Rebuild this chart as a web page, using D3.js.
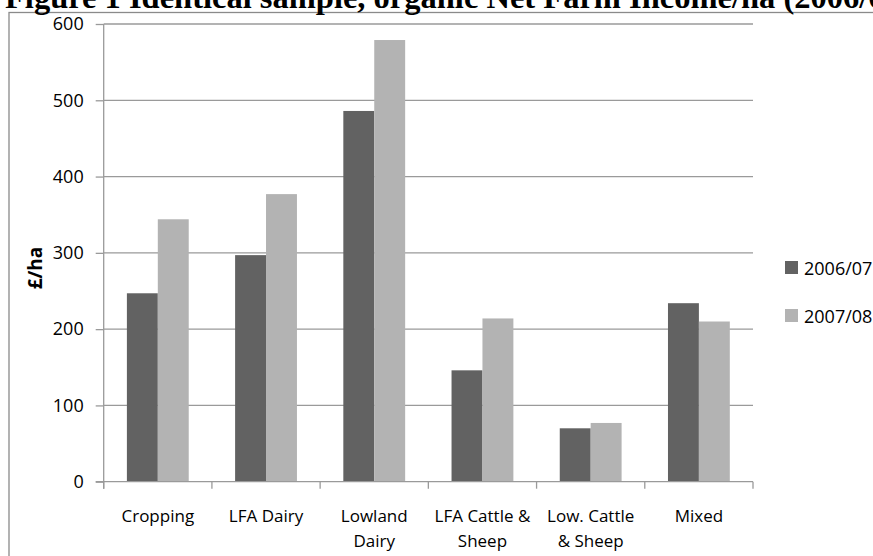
<!DOCTYPE html>
<html>
<head>
<meta charset="utf-8">
<script src="https://cdn.jsdelivr.net/npm/d3@7"></script>
<style>
  html, body { margin: 0; padding: 0; background: #fff; }
  svg { display: block; overflow: hidden; }
</style>
</head>
<body>
<svg id="chart" width="873" height="556"></svg>
<script>
const categories = ["Cropping", "LFA Dairy", "Lowland Dairy", "LFA Cattle & Sheep", "Low. Cattle & Sheep", "Mixed"];
const categoryLines = [["Cropping"], ["LFA Dairy"], ["Lowland", "Dairy"], ["LFA Cattle &", "Sheep"], ["Low. Cattle", "& Sheep"], ["Mixed"]];
const seriesNames = ["2006/07", "2007/08"];
const values2006 = [247, 297, 486, 146, 70, 234];
const values2007 = [344, 377, 579, 214, 77, 210];
const yTicks = [0, 100, 200, 300, 400, 500, 600];
const titleText = "Figure 1 Identical sample, organic Net Farm Income/ha (2006/07 \u2013 2007/08)";
const yLabel = "£/ha";

const colors = ["#626262", "#b3b3b3"];
const seriesValues = [values2006, values2007];

const svg = d3.select("#chart");
const pLeft = 103.7, pRight = 753, pTop = 24, pBottom = 481.7;
const font = "'Open Sans', sans-serif";

// Outer frame
svg.append("rect").attr("x", 9).attr("y", 12.5).attr("width", 900).attr("height", 600)
  .attr("fill", "none").attr("stroke", "#8a8a8a").attr("stroke-width", 1.3);

// Title (clipped at top)
svg.append("text").attr("x", 5).attr("y", 7.5)
  .attr("font-family", "'Liberation Serif', 'Times New Roman', serif")
  .attr("font-weight", "bold").attr("font-size", 32.5).attr("fill", "#000")
  .text(titleText);

const y = d3.scaleLinear().domain([0, 600]).range([pBottom, pTop]);
const x = d3.scaleBand().domain(categories).range([pLeft, pRight]).paddingInner(0).paddingOuter(0);
const xs = d3.scaleBand().domain(seriesNames).range([0, x.bandwidth()]).paddingInner(0).paddingOuter(0.75);

// Gridlines
svg.append("g").selectAll("line").data(yTicks.filter(d => d > 0)).join("line")
  .attr("x1", pLeft).attr("x2", pRight)
  .attr("y1", d => y(d)).attr("y2", d => y(d))
  .attr("stroke", "#9a9a9a").attr("stroke-width", 1.3);

// Bars
const groups = svg.append("g").selectAll("g").data(categories).join("g")
  .attr("transform", d => `translate(${x(d)},0)`);
groups.selectAll("rect").data((d, i) => seriesNames.map((s, j) => ({ s, j, v: seriesValues[j][i] }))).join("rect")
  .attr("x", d => xs(d.s)).attr("width", xs.bandwidth())
  .attr("y", d => y(d.v)).attr("height", d => pBottom - y(d.v))
  .attr("fill", d => colors[d.j]);

// Y axis
const yAxis = d3.axisLeft(y).tickValues(yTicks).tickSize(8).tickPadding(12);
const ya = svg.append("g").attr("transform", `translate(${pLeft},0)`).call(yAxis);
ya.select(".domain").attr("stroke", "#9a9a9a").attr("stroke-width", 1.3).attr("d", `M0,${pTop}V${pBottom + 7}`);
ya.selectAll(".tick line").attr("stroke", "#9a9a9a").attr("stroke-width", 1.3);
ya.selectAll(".tick text").attr("font-family", font).attr("font-size", 18).attr("fill", "#000");

// X axis
const xAxis = d3.axisBottom(x).tickSize(0).tickFormat("");
const xa = svg.append("g").attr("transform", `translate(0,${pBottom})`).call(xAxis);
xa.select(".domain").attr("stroke", "#9a9a9a").attr("stroke-width", 1.3).attr("d", `M${pLeft - 8},0H${pRight}`);
xa.selectAll(".tick").remove();
const bounds = categories.map(c => x(c)).concat([pRight]);
xa.selectAll("line.sep").data(bounds).join("line").attr("class", "sep")
  .attr("x1", d => d).attr("x2", d => d).attr("y1", 0).attr("y2", 7)
  .attr("stroke", "#9a9a9a").attr("stroke-width", 1.3);

// Category labels
const lab = svg.append("g").selectAll("text").data(categories).join("text")
  .attr("x", d => x(d) + x.bandwidth() / 2).attr("y", 522)
  .attr("text-anchor", "middle").attr("font-family", font).attr("font-size", 17).attr("fill", "#000");
lab.selectAll("tspan").data((d, i) => categoryLines[i]).join("tspan")
  .attr("x", function () { return d3.select(this.parentNode).attr("x"); })
  .attr("dy", (d, i) => i === 0 ? 0 : 25).text(d => d);

// Y label
svg.append("text").attr("transform", "translate(42,268) rotate(-90)")
  .attr("text-anchor", "middle").attr("font-family", font).attr("font-weight", "bold")
  .attr("font-size", 19).attr("fill", "#000").text(yLabel);

// Legend
const leg = svg.append("g").selectAll("g").data(seriesNames).join("g")
  .attr("transform", (d, i) => `translate(785,${261 + i * 48})`);
leg.append("rect").attr("width", 13).attr("height", 13).attr("fill", (d, i) => colors[i]);
leg.append("text").attr("x", 19).attr("y", 13.5).attr("font-family", font).attr("font-size", 18)
  .attr("fill", "#000").text(d => d);
</script>
</body>
</html>
